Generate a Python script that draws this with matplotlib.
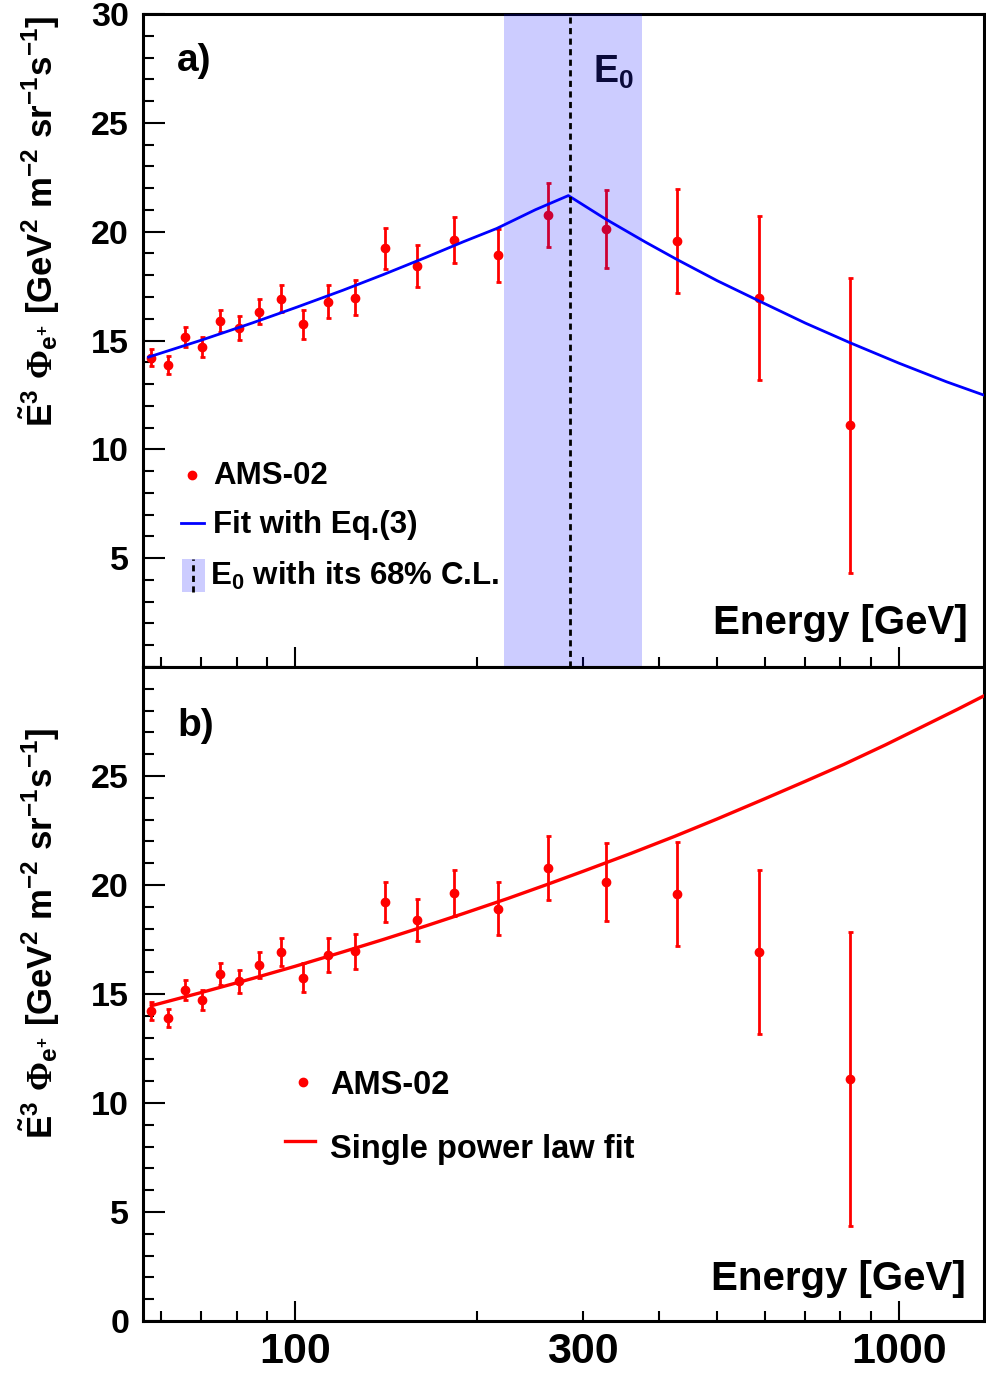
import matplotlib
matplotlib.use('Agg')
import matplotlib.pyplot as plt
from matplotlib.patches import Rectangle
from matplotlib.ticker import FixedLocator, MultipleLocator, FuncFormatter

plt.rcParams['font.family'] = ['Liberation Sans', 'DejaVu Sans']
plt.rcParams['font.weight'] = 'bold'
plt.rcParams['mathtext.fontset'] = 'custom'
plt.rcParams['mathtext.bf'] = 'Liberation Sans:bold'
plt.rcParams['mathtext.rm'] = 'Liberation Serif'
plt.rcParams['mathtext.it'] = 'Liberation Sans:italic:bold'

# AMS-02 positron flux (E^3 weighted)
energy = [57.8, 61.5, 65.8, 70.2, 75.2, 80.7, 87.3, 94.7, 103.1, 113.4,
          125.7, 140.9, 159.4, 183.5, 216.9, 261.9, 327.2, 428.6, 587.0, 829.6]
flux = [14.22, 13.89, 15.18, 14.71, 15.90, 15.58, 16.33, 16.93, 15.75, 16.79,
        16.96, 19.23, 18.41, 19.62, 18.91, 20.77, 20.12, 19.57, 16.94, 11.10]
flux_err = [0.41, 0.42, 0.46, 0.46, 0.51, 0.54, 0.58, 0.64, 0.66, 0.76,
            0.80, 0.92, 0.96, 1.05, 1.21, 1.48, 1.79, 2.38, 3.76, 6.76]

# fit with Eq.(3) (broken power law)
fit_a_e = [57.2, 70, 85, 100.6, 120, 140, 165, 190, 215.8, 250, 283.5,
           326.4, 380, 428.5, 500, 588.5, 700, 829.6, 1000, 1200, 1383]
fit_a_y = [14.24, 15.02, 15.81, 16.53, 17.31, 18.03, 18.83, 19.54, 20.15, 21.01, 21.66,
           20.59, 19.53, 18.73, 17.75, 16.80, 15.80, 14.90, 13.96, 13.10, 12.49]

# single power law fit
fit_b_e = [57.8, 70, 85, 100, 120, 140, 165, 190, 225, 260, 300,
           360, 425, 500, 600, 700, 810, 950, 1100, 1250, 1383]
fit_b_y = [14.46, 15.07, 15.71, 16.27, 16.93, 17.50, 18.13, 18.69, 19.38, 20.00, 20.63,
           21.45, 22.23, 23.03, 23.96, 24.76, 25.53, 26.43, 27.30, 28.06, 28.68]

# break energy and its 68% C.L.
e0 = 285.0
e0_lo, e0_hi = 221.6, 375.4

x_minor = [60, 70, 80, 90, 200, 300, 400, 500, 600, 700, 800, 900]
band_col = (0.0, 0.0, 1.0, 0.2)
dash = (0, (2.2, 1.6))

ylab = (r'$\mathbf{\tilde{E}^{3}}\ \Phi_{\mathbf{e^{+}}}\ '
        r'\mathbf{[GeV^{2}\ m^{-2}\ sr^{-1}s^{-1}]}$')

fig = plt.figure(figsize=(9.86, 13.79), dpi=100)
ax_a = fig.add_axes([0.145, 0.5163, 0.853, 0.4735])
ax_b = fig.add_axes([0.145, 0.0421, 0.853, 0.4742])


def style(ax, hide):
    ax.set_xscale('log')
    ax.set_xlim(56, 1383)
    ax.set_ylim(0, 30)
    for s in ax.spines.values():
        s.set_linewidth(2.2)
    ax.xaxis.set_major_locator(FixedLocator([100, 1000]))
    ax.xaxis.set_minor_locator(FixedLocator(x_minor))
    ax.xaxis.set_major_formatter(FuncFormatter(lambda v, p: f'{v:.0f}'))
    ax.xaxis.set_minor_formatter(FuncFormatter(lambda v, p: '300' if abs(v - 300) < 1 else ''))
    ax.yaxis.set_major_locator(MultipleLocator(5))
    ax.yaxis.set_minor_locator(MultipleLocator(1))
    ax.yaxis.set_major_formatter(FuncFormatter(lambda v, p: '' if abs(v - hide) < 0.1 else f'{v:.0f}'))
    ax.tick_params(which='both', direction='in', top=False, right=False, width=1.5)
    ax.tick_params(axis='y', which='major', length=16, labelsize=24.5, pad=10)
    ax.tick_params(axis='y', which='minor', length=8)
    ax.tick_params(axis='x', which='major', length=14.5, labelsize=31, pad=8)
    ax.tick_params(axis='x', which='minor', length=7.5, labelsize=31, pad=8)


style(ax_a, 0)
style(ax_b, 30)
ax_a.tick_params(axis='x', which='both', labelbottom=False)

# panel a
ax_a.errorbar(energy, flux, yerr=flux_err, fmt='o', color='red', ms=6,
              elinewidth=2, capsize=1.8, capthick=2, zorder=3)
ax_a.axvspan(e0_lo, e0_hi, facecolor=band_col, lw=0, zorder=4)
ax_a.plot(fit_a_e, fit_a_y, color='blue', lw=2, zorder=5)
ax_a.axvline(e0, color='black', lw=2, ls=dash, zorder=6)

ax_a.plot([0.0582], [0.294], 'o', color='red', ms=6, transform=ax_a.transAxes)
ax_a.plot([0.0451, 0.0724], [0.2205, 0.2205], color='blue', lw=2, transform=ax_a.transAxes)
ax_a.add_patch(Rectangle((0.0463, 0.1149), 0.0273, 0.0505, facecolor=band_col, lw=0,
                         transform=ax_a.transAxes))
ax_a.plot([0.0599, 0.0599], [0.1149, 0.1654], color='black', lw=2, ls=dash,
          transform=ax_a.transAxes)
ax_a.text(0.0831, 0.2798, 'AMS-02', fontsize=22.5, transform=ax_a.transAxes, va='baseline')
ax_a.text(0.0831, 0.2057, 'Fit with Eq.(3)', fontsize=22.5, transform=ax_a.transAxes, va='baseline')
ax_a.text(0.0801, 0.1256, r'E$_\mathbf{0}$ with its 68% C.L.', fontsize=22.5,
          transform=ax_a.transAxes, va='baseline')

# panel b
ax_b.errorbar(energy, flux, yerr=flux_err, fmt='o', color='red', ms=6,
              elinewidth=2, capsize=1.8, capthick=2, zorder=3)
ax_b.plot(fit_b_e, fit_b_y, color='red', lw=2.4, zorder=4)

ax_b.plot([0.1897], [0.365], 'o', color='red', ms=6, transform=ax_b.transAxes)
ax_b.plot([0.1686, 0.2043], [0.2752, 0.2752], color='red', lw=2.4, transform=ax_b.transAxes)
ax_b.text(0.2221, 0.3466, 'AMS-02', fontsize=23.5, transform=ax_b.transAxes, va='baseline')
ax_b.text(0.2221, 0.2497, 'Single power law fit', fontsize=23.5, transform=ax_b.transAxes,
          va='baseline')

# labels
fig.text(0.1795, 0.9558, 'a)', fontsize=28, va='center', ha='left')
fig.text(0.1795, 0.4735, 'b)', fontsize=28, va='center', ha='left')
fig.text(0.6014, 0.9478, r'E$_\mathbf{0}$', fontsize=27, va='center', ha='left', color='#0a0a3a')
fig.text(0.9817, 0.5402, 'Energy [GeV]', fontsize=29, ha='right', va='baseline')
fig.text(0.9797, 0.0645, 'Energy [GeV]', fontsize=29, ha='right', va='baseline')
fig.text(0.0406, 0.8394, ylab, fontsize=25, rotation=90, ha='center', va='center')
fig.text(0.0406, 0.3235, ylab, fontsize=25, rotation=90, ha='center', va='center')

fig.savefig('out.png', dpi=100)
plt.close(fig)
